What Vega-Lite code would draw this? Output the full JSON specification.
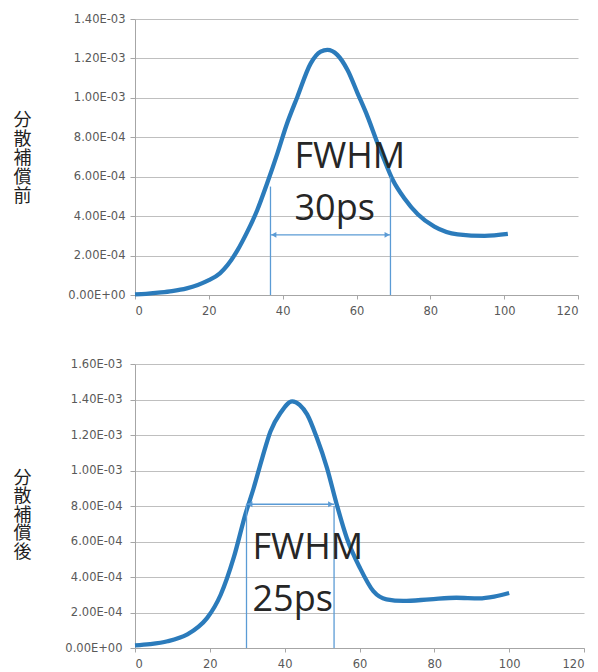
{
  "$schema": "https://vega.github.io/schema/vega-lite/v6.json",
  "padding": {"left": 13, "top": 13, "right": 5, "bottom": 0},
  "spacing": 41,
  "config": {
    "view": {"stroke": null},
    "axis": {
      "labelFont": "DejaVu Sans",
      "labelFontSize": 11.5,
      "labelColor": "#595959",
      "domainColor": "#a6a6a6",
      "tickColor": "#a6a6a6",
      "gridColor": "#bfbfbf",
      "tickSize": 4
    }
  },
  "datasets": {
    "topCurve": [
      {"t": 0, "v": 0.000003}, {"t": 3, "v": 0.000006}, {"t": 7, "v": 0.000013}, {"t": 10, "v": 0.00002},
      {"t": 14, "v": 0.000034}, {"t": 17, "v": 0.000051}, {"t": 20, "v": 0.000075}, {"t": 23, "v": 0.00011},
      {"t": 25, "v": 0.00015}, {"t": 27.7, "v": 0.000225}, {"t": 30.4, "v": 0.00032}, {"t": 33.1, "v": 0.00043},
      {"t": 35.8, "v": 0.000567}, {"t": 38.6, "v": 0.00072}, {"t": 41, "v": 0.00086}, {"t": 44, "v": 0.001006},
      {"t": 47.6, "v": 0.001175}, {"t": 50.3, "v": 0.001234}, {"t": 52.1, "v": 0.001243}, {"t": 54.8, "v": 0.001218},
      {"t": 57.6, "v": 0.00114}, {"t": 60.3, "v": 0.001023}, {"t": 63, "v": 0.000905}, {"t": 65.7, "v": 0.00077},
      {"t": 67.2, "v": 0.0007}, {"t": 69.8, "v": 0.000585}, {"t": 73, "v": 0.00049}, {"t": 76.6, "v": 0.00041},
      {"t": 81.1, "v": 0.000347}, {"t": 87.4, "v": 0.000308}, {"t": 94.7, "v": 0.0003}, {"t": 101, "v": 0.00031}
    ],
    "bottomCurve": [
      {"t": 0, "v": 0.000015}, {"t": 4, "v": 0.000022}, {"t": 8.7, "v": 0.000038}, {"t": 14, "v": 0.000077},
      {"t": 17, "v": 0.00012}, {"t": 19.3, "v": 0.00017}, {"t": 22.9, "v": 0.0003}, {"t": 26.4, "v": 0.00051},
      {"t": 29.5, "v": 0.000753}, {"t": 31.7, "v": 0.0009}, {"t": 34, "v": 0.00107}, {"t": 36.2, "v": 0.00122},
      {"t": 38.9, "v": 0.001325}, {"t": 42, "v": 0.00139}, {"t": 44, "v": 0.00137}, {"t": 46, "v": 0.001316},
      {"t": 48.6, "v": 0.001184}, {"t": 51.3, "v": 0.001015}, {"t": 53.9, "v": 0.00081}, {"t": 56.6, "v": 0.00062},
      {"t": 60.1, "v": 0.000452}, {"t": 63.7, "v": 0.00032}, {"t": 67.2, "v": 0.000274}, {"t": 71.7, "v": 0.000265},
      {"t": 78.8, "v": 0.000274}, {"t": 85.9, "v": 0.000283}, {"t": 92, "v": 0.00028}, {"t": 96, "v": 0.00029},
      {"t": 100, "v": 0.00031}
    ],
    "topRules": [
      {"t": 36.7, "v": 0, "v2": 0.00055},
      {"t": 69.2, "v": 0, "v2": 0.0006}
    ],
    "topArrow": [{"t": 36.7, "t2": 69.2, "v": 0.000305}],
    "topHeads": [
      {"t": 37.6, "v": 0.000305, "side": "left"},
      {"t": 68.3, "v": 0.000305, "side": "right"}
    ],
    "topText": [
      {"t": 43.2, "v": 0.000644, "label": "FWHM"},
      {"t": 43.2, "v": 0.00038, "label": "30ps"}
    ],
    "bottomRules": [
      {"t": 29.8, "v": 0, "v2": 0.00081},
      {"t": 53.2, "v": 0, "v2": 0.0008}
    ],
    "bottomArrow": [{"t": 29.8, "t2": 53.2, "v": 0.00081}],
    "bottomHeads": [
      {"t": 30.7, "v": 0.00081, "side": "left"},
      {"t": 52.3, "v": 0.00081, "side": "right"}
    ],
    "bottomText": [
      {"t": 31.4, "v": 0.0005, "label": "FWHM"},
      {"t": 31.4, "v": 0.000208, "label": "25ps"}
    ]
  },
  "vconcat": [
    {
      "width": 443,
      "height": 276,
      "encoding": {
        "x": {"field": "t", "type": "quantitative", "scale": {"domain": [0, 120], "nice": false},
              "axis": {"title": null, "values": [0, 20, 40, 60, 80, 100, 120], "grid": false, "labelPadding": 6}},
        "y": {"field": "v", "type": "quantitative", "scale": {"domain": [0, 0.0014], "nice": false},
              "axis": {
                "values": [0, 0.0002, 0.0004, 0.0006, 0.0008, 0.001, 0.0012, 0.0014],
                "labelExpr": "datum.value == 0 ? '0.00E+00' : datum.value >= 0.00099 ? format(datum.value*1000, '.2f') + 'E-03' : format(datum.value*10000, '.2f') + 'E-04'",
                "tickSize": 5,
                "labelPadding": 5,
                "title": ["分", "散", "補", "償", "前"],
                "titleAngle": 0,
                "titleFont": "Noto Sans CJK JP",
                "titleFontSize": 18,
                "titleFontWeight": "normal",
                "titleColor": "#222222",
                "titleLineHeight": 19,
                "titleAlign": "center",
                "titleBaseline": "top",
                "titleX": -113,
                "titleY": 92
              }}
      },
      "layer": [
        {"data": {"name": "topCurve"}, "mark": {"type": "line", "color": "#2b7bbb", "strokeWidth": 4.3, "interpolate": "monotone"}},
        {"data": {"name": "topRules"}, "mark": {"type": "rule", "color": "#5b9bd5", "strokeWidth": 1.3},
         "encoding": {"y2": {"field": "v2"}}},
        {"data": {"name": "topArrow"}, "mark": {"type": "rule", "color": "#5b9bd5", "strokeWidth": 1.3},
         "encoding": {"x2": {"field": "t2"}}},
        {"data": {"name": "topHeads"}, "mark": {"type": "point", "filled": true, "color": "#5b9bd5", "size": 35, "opacity": 1},
         "encoding": {"shape": {"field": "side", "type": "nominal", "scale": {"domain": ["left", "right"], "range": ["triangle-left", "triangle-right"]}, "legend": null}}},
        {"data": {"name": "topText"}, "mark": {"type": "text", "font": "Open Sans", "fontSize": 36, "color": "#262626", "align": "left", "baseline": "alphabetic"},
         "encoding": {"text": {"field": "label"}}}
      ]
    },
    {
      "width": 449,
      "height": 284,
      "encoding": {
        "x": {"field": "t", "type": "quantitative", "scale": {"domain": [0, 120], "nice": false},
              "axis": {"title": null, "values": [0, 20, 40, 60, 80, 100, 120], "grid": false, "labelPadding": 6}},
        "y": {"field": "v", "type": "quantitative", "scale": {"domain": [0, 0.0016], "nice": false},
              "axis": {
                "values": [0, 0.0002, 0.0004, 0.0006, 0.0008, 0.001, 0.0012, 0.0014, 0.0016],
                "labelExpr": "datum.value == 0 ? '0.00E+00' : datum.value >= 0.00099 ? format(datum.value*1000, '.2f') + 'E-03' : format(datum.value*10000, '.2f') + 'E-04'",
                "tickSize": 5,
                "labelPadding": 8,
                "title": ["分", "散", "補", "償", "後"],
                "titleAngle": 0,
                "titleFont": "Noto Sans CJK JP",
                "titleFontSize": 18,
                "titleFontWeight": "normal",
                "titleColor": "#222222",
                "titleLineHeight": 18.5,
                "titleAlign": "center",
                "titleBaseline": "top",
                "titleX": -113,
                "titleY": 105
              }}
      },
      "layer": [
        {"data": {"name": "bottomCurve"}, "mark": {"type": "line", "color": "#2b7bbb", "strokeWidth": 4.3, "interpolate": "monotone"}},
        {"data": {"name": "bottomRules"}, "mark": {"type": "rule", "color": "#5b9bd5", "strokeWidth": 1.3},
         "encoding": {"y2": {"field": "v2"}}},
        {"data": {"name": "bottomArrow"}, "mark": {"type": "rule", "color": "#5b9bd5", "strokeWidth": 1.3},
         "encoding": {"x2": {"field": "t2"}}},
        {"data": {"name": "bottomHeads"}, "mark": {"type": "point", "filled": true, "color": "#5b9bd5", "size": 35, "opacity": 1},
         "encoding": {"shape": {"field": "side", "type": "nominal", "scale": {"domain": ["left", "right"], "range": ["triangle-left", "triangle-right"]}, "legend": null}}},
        {"data": {"name": "bottomText"}, "mark": {"type": "text", "font": "Open Sans", "fontSize": 36, "color": "#262626", "align": "left", "baseline": "alphabetic"},
         "encoding": {"text": {"field": "label"}}}
      ]
    }
  ]
}
